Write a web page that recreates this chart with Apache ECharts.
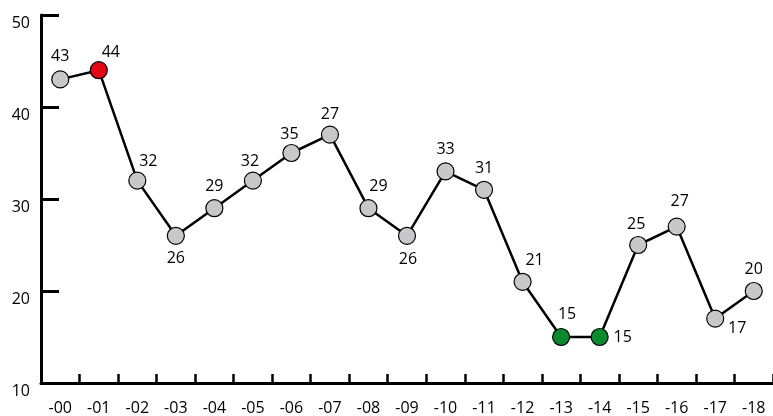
<!DOCTYPE html>
<html>
<head>
<meta charset="utf-8">
<script src="https://cdn.jsdelivr.net/npm/echarts@6/dist/echarts.min.js"></script>
<style>html,body{margin:0;padding:0;background:#fff}#c{width:773px;height:416px}</style>
</head>
<body>
<div id="c"></div>
<script>
const categories = ['-00','-01','-02','-03','-04','-05','-06','-07','-08','-09','-10','-11','-12','-13','-14','-15','-16','-17','-18'];
const values = [43,44,32,26,29,32,35,37,29,26,33,31,21,15,15,25,27,17,20];
const labelTexts = ['43','44','32','26','29','32','35','27','29','26','33','31','21','15','15','25','27','17','20'];
const yTicks = [10,20,30,40,50];
const highlightRed = [1];
const highlightGreen = [13,14];

const labelOffsets = [[0,-23],[12,-18],[11,-19],[0,23],[0,-22],[-3,-19],[-2,-19],[0,-20],[10,-22],[1,24],[0,-22],[0,-21],[12,-21],[6,-23],[23,0],[-2,-21],[3,-25],[22,10],[0,-22]];
const FONT = 'Open Sans';

const data = values.map((v, i) => {
  let color = '#c8c8ca';
  if (highlightRed.includes(i)) color = '#e30613';
  if (highlightGreen.includes(i)) color = '#0a8a2e';
  return {
    value: v,
    itemStyle: { color: color, borderColor: '#000', borderWidth: 1.2 },
    label: { show: true, position: 'inside', offset: labelOffsets[i], formatter: labelTexts[i] }
  };
});

const chart = echarts.init(document.getElementById('c'));
chart.setOption({
  animation: false,
  grid: { left: 41, right: 0, top: 15, bottom: 33, containLabel: false },
  xAxis: {
    type: 'category',
    data: categories,
    boundaryGap: true,
    axisLine: { lineStyle: { color: '#000', width: 3 } },
    axisTick: { show: true, inside: true, length: 9, lineStyle: { color: '#000', width: 2.5 } },
    axisLabel: { color: '#000', fontFamily: FONT, fontSize: 16, margin: 17, interval: 0 },
    splitLine: { show: false }
  },
  yAxis: {
    type: 'value',
    min: yTicks[0],
    max: yTicks[yTicks.length - 1],
    interval: 10,
    axisLine: { show: true, lineStyle: { color: '#000', width: 3 } },
    axisTick: { show: true, inside: true, length: 18, lineStyle: { color: '#000', width: 3 } },
    axisLabel: { color: '#000', fontFamily: FONT, fontSize: 16, margin: 11, verticalAlign: 'top' },
    splitLine: { show: false }
  },
  series: [{
    type: 'line',
    data: data,
    symbol: 'circle',
    symbolSize: 17,
    lineStyle: { color: '#000', width: 2.5 },
    label: { color: '#000', fontFamily: FONT, fontSize: 16 },
    z: 3
  }]
});
</script>
</body>
</html>
